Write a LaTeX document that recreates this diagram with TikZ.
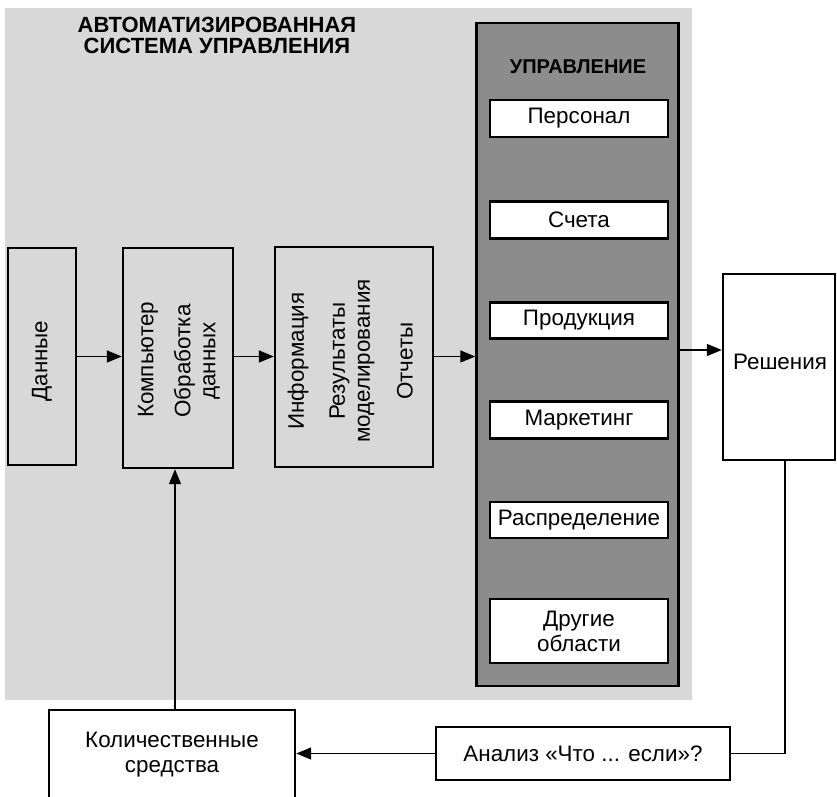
\documentclass[tikz,border=0pt]{standalone}
\usepackage{fontspec}
\setmainfont{Liberation Sans}
\usetikzlibrary{arrows.meta, positioning, calc}
\definecolor{bgdither}{RGB}{216, 216, 216}
\definecolor{paneldark}{RGB}{140, 140, 140}

\begin{document}
\begin{tikzpicture}[x=0.5pt, y=-0.5pt,
    every node/.style={font=\fontsize{11.2}{12.5}\selectfont, inner sep=0pt},
    box/.style={draw, line width=1.2pt},
    wbox/.style={box, fill=white},
    vlabel/.style={rotate=90, align=center},
    arr/.style={-{Triangle[length=7.5pt, width=6pt]}, line width=0.7pt},
    link/.style={line width=0.7pt}]
  % 统一 bounding box
  \useasboundingbox (0, 0) rectangle (837, 797);

  % 浅灰底色与深灰面板
  \fill[bgdither] (5, 8) rectangle (692, 700);
  \node[box, fill=paneldark, minimum width=101pt, minimum height=331.5pt] (panel) at (577.5, 354.5) {};

  % 标题
  \node[font=\fontsize{11}{10.5}\selectfont\bfseries, align=center] (title) at (217, 35)
    {АВТОМАТИЗИРОВАННАЯ\\СИСТЕМА УПРАВЛЕНИЯ};
  \node[font=\fontsize{10}{12}\selectfont\bfseries] (uprlabel) at (578, 67) {УПРАВЛЕНИЕ};

  % 面板内的白框
  \node[wbox, minimum width=89pt, minimum height=18.5pt] (pers) at (579, 118.5) {Персонал};
  \node[wbox, minimum width=89pt, minimum height=18.5pt] (scheta) at (579, 220) {Счета};
  \node[wbox, minimum width=89pt, minimum height=18pt] (prod) at (579, 320.5) {Продукция};
  \node[wbox, minimum width=89pt, minimum height=18.5pt] (mark) at (579, 420) {Маркетинг};
  \node[wbox, minimum width=89pt, minimum height=18pt] (raspr) at (579, 520) {Распределение};
  \node[wbox, minimum width=89pt, minimum height=32pt, align=center] (drug) at (579, 631) {Другие\\области};

  % 左侧三框（竖排文字）
  \node[box, minimum width=34pt, minimum height=108.5pt] (data) at (42, 356.5) {};
  \node[vlabel] (datatxt) at (42, 361) {Данные};
  \node[box, minimum width=55pt, minimum height=110pt] (comp) at (178, 358) {};
  \node[vlabel] (comptxt) at (148, 360) {Компьютер};
  \node[vlabel] (proctxt) at (197, 361) {Обработка\\данных};
  \node[box, minimum width=79pt, minimum height=110pt] (info) at (354, 357) {};
  \node[vlabel] (infotxt) at (298, 361) {Информация};
  \node[vlabel] (modtxt) at (352, 361) {Результаты\\моделирования};
  \node[vlabel] (reptxt) at (405, 361) {Отчеты};

  % 右侧与下方
  \node[wbox, minimum width=56pt, minimum height=93pt] (resh) at (779, 367) {};
  \node (reshtxt) at (780, 362) {Решения};
  \node[wbox, minimum width=123pt, minimum height=45pt, align=center] (kol) at (172, 755)
    {Количественные\\средства};
  \node[wbox, minimum width=147pt, minimum height=26.5pt] (anal) at (583, 753.5)
    {Анализ «Что ... если»?};

  % 连线的辅助点
  \coordinate (reshin) at ($(resh.west)+(0,-17)$);
  \coordinate (reshout) at ($(resh.south)+(6,0)$);
  \coordinate (kolout) at ($(kol.north)+(3,0)$);

  % 连线
  \draw[arr] (data.east) -- (data.east -| comp.west);
  \draw[arr] (comp.east |- data.east) -- (data.east -| info.west);
  \draw[arr] (info.east |- data.east) -- (data.east -| panel.west);
  \draw[arr] (reshin -| panel.east) -- (reshin);
  \draw[link] (reshout) |- (anal.east);
  \draw[arr] (anal.west) -- (anal.west -| kol.east);
  \draw[arr] (kolout) -- (kolout |- comp.south);
\end{tikzpicture}
\end{document}
